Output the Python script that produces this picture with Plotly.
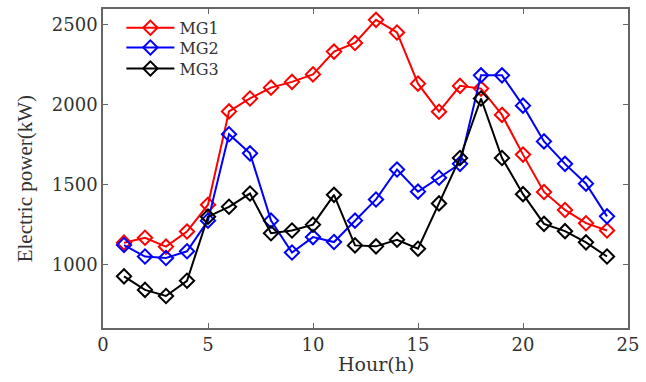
import plotly.graph_objects as go

hours = list(range(1, 25))
mg1 = [1135, 1166, 1110, 1205, 1373, 1958, 2039, 2107, 2143, 2190, 2333, 2387,
       2532, 2453, 2132, 1956, 2118, 2101, 1936, 1687, 1453, 1340, 1257, 1211]
mg2 = [1120, 1048, 1039, 1081, 1273, 1815, 1695, 1273, 1073, 1170, 1139, 1273,
       1406, 1594, 1455, 1542, 1629, 2184, 2184, 1994, 1770, 1629, 1505, 1300]
mg3 = [924, 839, 801, 896, 1298, 1360, 1443, 1194, 1211, 1248, 1435, 1118,
       1112, 1153, 1097, 1381, 1666, 2039, 1666, 1439, 1253, 1207, 1137, 1048]

series = [("MG1", mg1, "#ff0000"), ("MG2", mg2, "#0000ff"), ("MG3", mg3, "#000000")]
legend_ids = ["legend", "legend2", "legend3"]
legend_rows = [0.941, 0.879, 0.813]

wide = "DejaVu Serif, serif"
narrow = "Liberation Serif, Times New Roman, serif"
txt = "#333333"

fig = go.Figure()
for (name, vals, col), lid in zip(series, legend_ids):
    fig.add_trace(go.Scatter(
        x=hours, y=vals, name=name, mode="lines+markers", legend=lid,
        line=dict(color=col, width=2),
        marker=dict(symbol="diamond-open", size=11, color=col, line=dict(width=2, color=col)),
    ))

axis_common = dict(
    showline=True, linecolor="#666666", linewidth=1.5, mirror="ticks",
    ticks="inside", ticklen=5, tickcolor="#666666", tickwidth=1,
    showgrid=False, zeroline=False,
    tickfont=dict(family=wide, size=18, color=txt),
)
fig.update_xaxes(range=[0, 25], dtick=5, tick0=0, **axis_common)
fig.update_yaxes(range=[600, 2600], tickvals=[1000, 1500, 2000, 2500], **axis_common)

fig.add_annotation(text="Hour(h)", xref="paper", yref="paper", x=0.52, y=-0.074,
                   xanchor="center", yanchor="top", showarrow=False, borderpad=0,
                   font=dict(family=wide, size=19, color=txt))
fig.add_annotation(text="Electric power(kW)", xref="paper", yref="paper", x=-0.148, y=0.467,
                   xanchor="center", yanchor="middle", showarrow=False, textangle=-90,
                   font=dict(family=narrow, size=21, color=txt))

leg_common = dict(x=0.035, xanchor="left", yanchor="middle",
                  font=dict(family=wide, size=16, color=txt),
                  bgcolor="rgba(255,255,255,0)", itemwidth=48)
layout_legends = {lid: dict(y=ypos, **leg_common) for lid, ypos in zip(legend_ids, legend_rows)}

fig.update_layout(
    width=646, height=382,
    margin=dict(l=103, r=17, t=7, b=54),
    plot_bgcolor="white", paper_bgcolor="white",
    showlegend=True,
    **layout_legends,
)
fig.write_html("out.html")
